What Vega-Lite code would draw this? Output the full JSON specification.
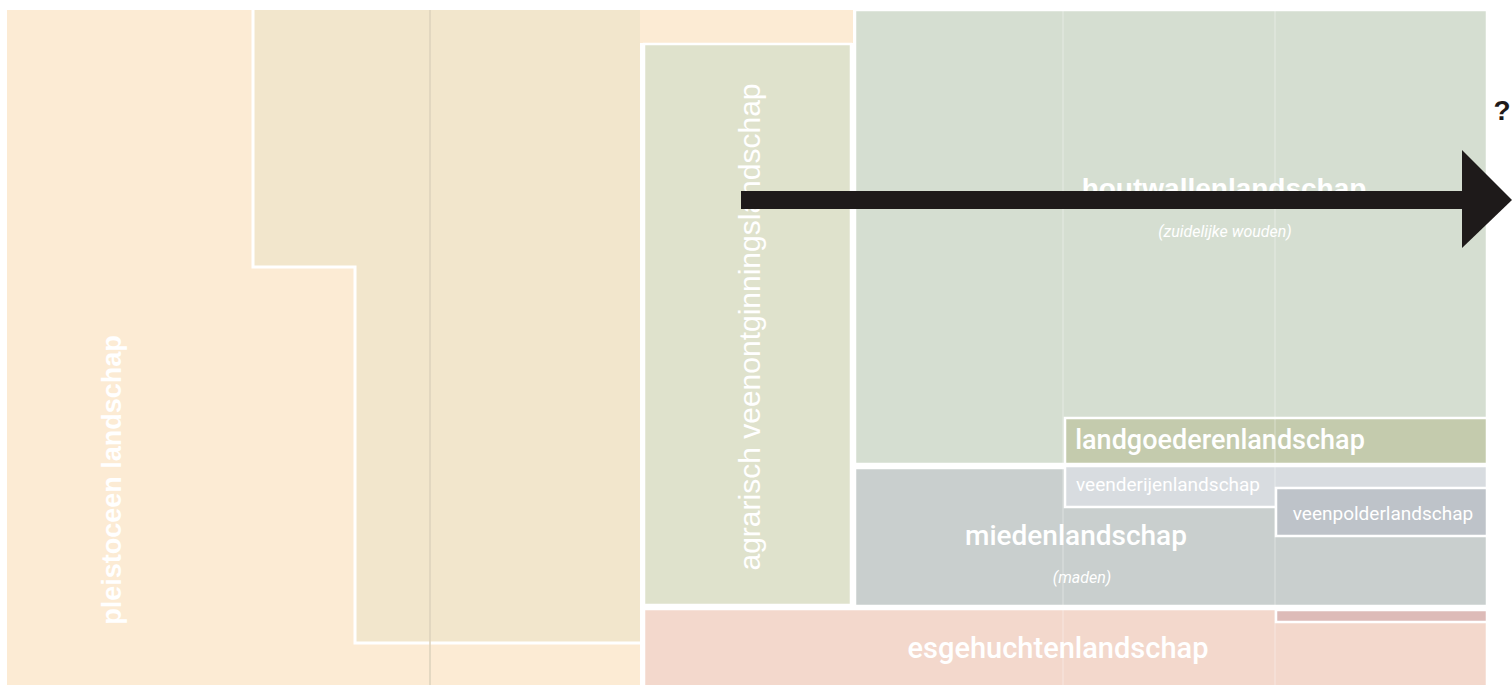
{
  "$schema": "https://vega.github.io/schema/vega-lite/v6.json",
  "width": 1512,
  "height": 685,
  "autosize": {"type": "none"},
  "padding": 0,
  "background": "white",
  "config": {"view": {"stroke": null}},
  "layer": [
    {
      "data": {"values": [
        {"zone": "pleistoceen", "x": 7, "x2": 640, "y": 10, "y2": 685},
        {"zone": "pleistoceen", "x": 640, "x2": 853, "y": 10, "y2": 43},
        {"zone": "dekzand", "x": 253, "x2": 640, "y": 10, "y2": 267},
        {"zone": "dekzand", "x": 355, "x2": 640, "y": 267, "y2": 643}
      ]},
      "mark": {"type": "rect"},
      "encoding": {
        "x": {"field": "x", "type": "quantitative", "scale": {"domain": [0, 1512], "nice": false, "zero": false}, "axis": null},
        "x2": {"field": "x2"},
        "y": {"field": "y", "type": "quantitative", "scale": {"domain": [0, 685], "nice": false, "zero": false, "reverse": true}, "axis": null},
        "y2": {"field": "y2"},
        "color": {"field": "zone", "type": "nominal", "legend": null,
          "scale": {"domain": ["pleistoceen", "dekzand", "agrarisch", "houtwallen", "mieden", "esgehuchten", "landgoederen", "veenderijen", "veenpolder", "strook"],
                    "range": ["#FCEBD4", "#F2E6CC", "#DFE2CC", "#D5DED1", "#C9CFCE", "#F3D8CC", "#C4CBAD", "#D8DCE0", "#BEC3C9", "#DDBBB8"]}}
      }
    },
    {
      "data": {"values": [
        {"i": 1, "x": 253, "y": 10},
        {"i": 2, "x": 253, "y": 267},
        {"i": 3, "x": 355, "y": 267},
        {"i": 4, "x": 355, "y": 643},
        {"i": 5, "x": 640, "y": 643}
      ]},
      "mark": {"type": "line", "color": "white", "strokeWidth": 3},
      "encoding": {
        "x": {"field": "x", "type": "quantitative", "scale": {"domain": [0, 1512], "nice": false, "zero": false}, "axis": null},
        "y": {"field": "y", "type": "quantitative", "scale": {"domain": [0, 685], "nice": false, "zero": false, "reverse": true}, "axis": null},
        "order": {"field": "i", "type": "quantitative"}
      }
    },
    {
      "data": {"values": [
        {"zone": "agrarisch", "x": 644, "x2": 851, "y": 44, "y2": 605},
        {"zone": "houtwallen", "x": 855, "x2": 1487, "y": 10, "y2": 464},
        {"zone": "mieden", "x": 855, "x2": 1487, "y": 468, "y2": 606},
        {"zone": "esgehuchten", "x": 644, "x2": 1487, "y": 609, "y2": 688},
        {"zone": "landgoederen", "x": 1065, "x2": 1487, "y": 418, "y2": 464},
        {"zone": "veenderijen", "x": 1065, "x2": 1487, "y": 466, "y2": 507},
        {"zone": "veenpolder", "x": 1276, "x2": 1487, "y": 488, "y2": 536},
        {"zone": "strook", "x": 1276, "x2": 1487, "y": 610, "y2": 622}
      ]},
      "mark": {"type": "rect", "stroke": "white", "strokeWidth": 2.5},
      "encoding": {
        "x": {"field": "x", "type": "quantitative", "scale": {"domain": [0, 1512], "nice": false, "zero": false}, "axis": null},
        "x2": {"field": "x2"},
        "y": {"field": "y", "type": "quantitative", "scale": {"domain": [0, 685], "nice": false, "zero": false, "reverse": true}, "axis": null},
        "y2": {"field": "y2"},
        "color": {"field": "zone", "type": "nominal", "legend": null,
          "scale": {"domain": ["pleistoceen", "dekzand", "agrarisch", "houtwallen", "mieden", "esgehuchten", "landgoederen", "veenderijen", "veenpolder", "strook"],
                    "range": ["#FCEBD4", "#F2E6CC", "#DFE2CC", "#D5DED1", "#C9CFCE", "#F3D8CC", "#C4CBAD", "#D8DCE0", "#BEC3C9", "#DDBBB8"]}}
      }
    },
    {
      "data": {"values": [
        {"x": 430, "y": 10, "y2": 685}
      ]},
      "mark": {"type": "rule", "color": "#DDD2BC", "strokeWidth": 1.5},
      "encoding": {
        "x": {"field": "x", "type": "quantitative", "scale": {"domain": [0, 1512], "nice": false, "zero": false}, "axis": null},
        "y": {"field": "y", "type": "quantitative", "scale": {"domain": [0, 685], "nice": false, "zero": false, "reverse": true}, "axis": null},
        "y2": {"field": "y2"}
      }
    },
    {
      "data": {"values": [
        {"x": 1063, "y": 10, "y2": 685},
        {"x": 1275, "y": 10, "y2": 685}
      ]},
      "mark": {"type": "rule", "color": "white", "strokeWidth": 2, "opacity": 0.2},
      "encoding": {
        "x": {"field": "x", "type": "quantitative", "scale": {"domain": [0, 1512], "nice": false, "zero": false}, "axis": null},
        "y": {"field": "y", "type": "quantitative", "scale": {"domain": [0, 685], "nice": false, "zero": false, "reverse": true}, "axis": null},
        "y2": {"field": "y2"}
      }
    },
    {
      "data": {"values": [{"label": "pleistoceen landschap", "x": 113, "y": 480}]},
      "mark": {"type": "text", "angle": 270, "font": "Liberation Sans", "fontWeight": "bold", "fontSize": 27, "color": "white", "align": "center", "baseline": "middle"},
      "encoding": {
        "x": {"field": "x", "type": "quantitative", "scale": {"domain": [0, 1512], "nice": false, "zero": false}, "axis": null},
        "y": {"field": "y", "type": "quantitative", "scale": {"domain": [0, 685], "nice": false, "zero": false, "reverse": true}, "axis": null},
        "text": {"field": "label"}
      }
    },
    {
      "data": {"values": [{"label": "agrarisch veenontginningslandschap", "x": 751, "y": 327}]},
      "mark": {"type": "text", "angle": 270, "font": "Liberation Sans", "fontSize": 30, "color": "white", "align": "center", "baseline": "middle"},
      "encoding": {
        "x": {"field": "x", "type": "quantitative", "scale": {"domain": [0, 1512], "nice": false, "zero": false}, "axis": null},
        "y": {"field": "y", "type": "quantitative", "scale": {"domain": [0, 685], "nice": false, "zero": false, "reverse": true}, "axis": null},
        "text": {"field": "label"}
      }
    },
    {
      "data": {"values": [{"label": "houtwallenlandschap", "x": 1224, "y": 190}]},
      "mark": {"type": "text", "font": "Liberation Sans", "fontWeight": "bold", "fontSize": 28, "color": "white", "align": "center", "baseline": "middle"},
      "encoding": {
        "x": {"field": "x", "type": "quantitative", "scale": {"domain": [0, 1512], "nice": false, "zero": false}, "axis": null},
        "y": {"field": "y", "type": "quantitative", "scale": {"domain": [0, 685], "nice": false, "zero": false, "reverse": true}, "axis": null},
        "text": {"field": "label"}
      }
    },
    {
      "data": {"values": [
        {"label": "landgoederenlandschap", "x": 1220, "y": 441},
        {"label": "miedenlandschap", "x": 1076, "y": 537},
        {"label": "esgehuchtenlandschap", "x": 1058, "y": 649}
      ]},
      "mark": {"type": "text", "font": "Roboto", "fontWeight": 500, "color": "white", "align": "center", "baseline": "middle"},
      "encoding": {
        "x": {"field": "x", "type": "quantitative", "scale": {"domain": [0, 1512], "nice": false, "zero": false}, "axis": null},
        "y": {"field": "y", "type": "quantitative", "scale": {"domain": [0, 685], "nice": false, "zero": false, "reverse": true}, "axis": null},
        "text": {"field": "label"},
        "size": {"field": "label", "type": "nominal", "legend": null, "scale": {"domain": ["landgoederenlandschap", "miedenlandschap", "esgehuchtenlandschap"], "range": [27, 29, 29.5]}}
      }
    },
    {
      "data": {"values": [
        {"label": "veenderijenlandschap", "x": 1168, "y": 485},
        {"label": "veenpolderlandschap", "x": 1383, "y": 514}
      ]},
      "mark": {"type": "text", "font": "Roboto", "fontSize": 19, "color": "white", "align": "center", "baseline": "middle"},
      "encoding": {
        "x": {"field": "x", "type": "quantitative", "scale": {"domain": [0, 1512], "nice": false, "zero": false}, "axis": null},
        "y": {"field": "y", "type": "quantitative", "scale": {"domain": [0, 685], "nice": false, "zero": false, "reverse": true}, "axis": null},
        "text": {"field": "label"}
      }
    },
    {
      "data": {"values": [
        {"label": "(zuidelijke wouden)", "x": 1225, "y": 232},
        {"label": "(maden)", "x": 1082, "y": 578}
      ]},
      "mark": {"type": "text", "font": "Roboto", "fontStyle": "italic", "fontSize": 16, "color": "white", "align": "center", "baseline": "middle"},
      "encoding": {
        "x": {"field": "x", "type": "quantitative", "scale": {"domain": [0, 1512], "nice": false, "zero": false}, "axis": null},
        "y": {"field": "y", "type": "quantitative", "scale": {"domain": [0, 685], "nice": false, "zero": false, "reverse": true}, "axis": null},
        "text": {"field": "label"}
      }
    },
    {
      "data": {"values": [{"x": 741, "x2": 1466, "y": 191, "y2": 209}]},
      "mark": {"type": "rect", "color": "#1E1A1A"},
      "encoding": {
        "x": {"field": "x", "type": "quantitative", "scale": {"domain": [0, 1512], "nice": false, "zero": false}, "axis": null},
        "x2": {"field": "x2"},
        "y": {"field": "y", "type": "quantitative", "scale": {"domain": [0, 685], "nice": false, "zero": false, "reverse": true}, "axis": null},
        "y2": {"field": "y2"}
      }
    },
    {
      "data": {"values": [
        {"x": 1462, "y": 150, "y2": 248},
        {"x": 1512, "y": 200, "y2": 200}
      ]},
      "mark": {"type": "area", "color": "#1E1A1A", "opacity": 1},
      "encoding": {
        "x": {"field": "x", "type": "quantitative", "scale": {"domain": [0, 1512], "nice": false, "zero": false}, "axis": null},
        "y": {"field": "y", "type": "quantitative", "scale": {"domain": [0, 685], "nice": false, "zero": false, "reverse": true}, "axis": null},
        "y2": {"field": "y2"}
      }
    },
    {
      "data": {"values": [{"label": "?", "x": 1502, "y": 112}]},
      "mark": {"type": "text", "font": "Liberation Sans", "fontWeight": "bold", "fontSize": 28, "color": "#1E1A1A", "align": "center", "baseline": "middle"},
      "encoding": {
        "x": {"field": "x", "type": "quantitative", "scale": {"domain": [0, 1512], "nice": false, "zero": false}, "axis": null},
        "y": {"field": "y", "type": "quantitative", "scale": {"domain": [0, 685], "nice": false, "zero": false, "reverse": true}, "axis": null},
        "text": {"field": "label"}
      }
    }
  ]
}
